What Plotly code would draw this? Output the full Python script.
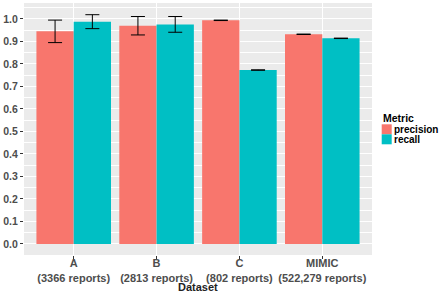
import plotly.graph_objects as go

categories = ["A<br>(3366 reports)", "B<br>(2813 reports)", "C<br>(802 reports)", "MIMIC<br>(522,279 reports)"]
precision = [0.945, 0.970, 0.994, 0.932]
precision_err = [0.050, 0.041, 0.001, 0.001]
recall = [0.988, 0.976, 0.773, 0.914]
recall_err = [0.031, 0.035, 0.001, 0.001]
y_ticks = [0.0, 0.1, 0.2, 0.3, 0.4, 0.5, 0.6, 0.7, 0.8, 0.9, 1.0]
series_names = ["precision", "recall"]
series_colors = ["#F8766D", "#00BFC4"]

font_family = "Liberation Sans, Arial, sans-serif"
txt = "#4D4D4D"

# plot area in pixels: x 24..372, y 3..255
L, R, T, B = 24, 372, 3, 255
W, H = R - L, B - T
def px(x):
    return (x - L) / W
def py(y):
    return (B - y) / H

fig = go.Figure()
fig.add_trace(go.Bar(x=categories, y=precision, name=series_names[0], marker=dict(color=series_colors[0], line=dict(width=0)),
                     error_y=dict(type="data", array=precision_err, color="black", thickness=1, width=7)))
fig.add_trace(go.Bar(x=categories, y=recall, name=series_names[1], marker=dict(color=series_colors[1], line=dict(width=0)),
                     error_y=dict(type="data", array=recall_err, color="black", thickness=1, width=7)))

# manual legend (ggplot style)
shapes = []
annotations = [dict(text="<b>Metric</b>", x=px(381.5), y=py(118), xref="paper", yref="paper",
                    xanchor="left", yanchor="middle", showarrow=False, borderpad=0,
                    font=dict(size=10.5, color="black", family=font_family)),
               dict(text="<b>Dataset</b>", x=px(198), y=py(287), xref="paper", yref="paper",
                    xanchor="center", yanchor="middle", showarrow=False, borderpad=0,
                    font=dict(size=11, color="#222222", family=font_family))]
key_tops = [124.3, 134.3]
for name, col, top in zip(series_names, series_colors, key_tops):
    shapes.append(dict(type="rect", xref="paper", yref="paper", x0=px(381.7), x1=px(391.7),
                       y0=py(top + 10), y1=py(top), fillcolor=col, line=dict(width=0), layer="above"))
    annotations.append(dict(text=f"<b>{name}</b>", x=px(392.5), y=py(top + 5), xref="paper", yref="paper",
                            xanchor="left", yanchor="middle", showarrow=False, borderpad=0,
                            font=dict(size=10, color="black", family=font_family)))

fig.update_layout(
    width=443, height=293,
    margin=dict(l=L, r=443 - R, t=T, b=293 - B, autoexpand=False),
    paper_bgcolor="white", plot_bgcolor="#EBEBEB",
    barmode="group", bargap=0.1, bargroupgap=0,
    font=dict(family=font_family, color=txt, size=10),
    showlegend=False,
    shapes=shapes, annotations=annotations,
    xaxis=dict(
        automargin=False,
        showgrid=True, gridcolor="white", gridwidth=1,
        ticks="outside", ticklen=3, tickcolor="#333333",
        ticklabelstandoff=-5,
        tickfont=dict(size=11, color=txt, weight="bold"),
        range=[-0.6, 3.6], zeroline=False,
    ),
    yaxis=dict(
        automargin=False,
        range=[-0.049, 1.071],
        tickvals=y_ticks, ticktext=[f"{v:.1f}" for v in y_ticks],
        showgrid=True, gridcolor="white", gridwidth=1,
        minor=dict(dtick=0.05, tick0=0.05, showgrid=True, gridcolor="white", gridwidth=0.5),
        ticks="outside", ticklen=3, tickcolor="#333333",
        tickfont=dict(size=10.5, color=txt, weight="bold"),
        zeroline=False,
    ),
)

fig.write_html("out.html", config={"displayModeBar": False},
               post_script="document.body.style.margin='0px';document.body.style.overflow='hidden';")
